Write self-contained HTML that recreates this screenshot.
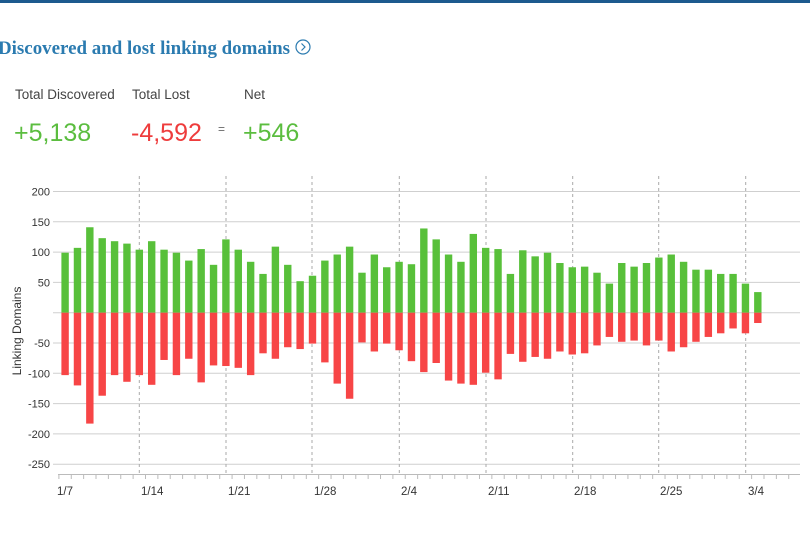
<!DOCTYPE html>
<html><head><meta charset="utf-8"><style>
body{margin:0;background:#fff;width:810px;height:540px;overflow:hidden;font-family:"Liberation Sans",sans-serif;}
</style></head><body>
<svg width="810" height="540" xmlns="http://www.w3.org/2000/svg" font-family="Liberation Sans, sans-serif">
<rect x="0" y="0" width="810" height="3" fill="#1d5a8e"/>
<text x="-2" y="54" font-family="Liberation Serif, serif" font-weight="bold" font-size="19" textLength="292" lengthAdjust="spacingAndGlyphs" fill="#2b7bb0">Discovered and lost linking domains</text>
<circle cx="303" cy="47" r="7" fill="none" stroke="#2b7bb0" stroke-width="1.2"/>
<path d="M301.5 43.5 L305 47 L301.5 50.5" fill="none" stroke="#2b7bb0" stroke-width="1.2"/>
<g font-size="13.5" fill="#444">
<text x="15" y="99">Total Discovered</text>
<text x="132" y="99">Total Lost</text>
<text x="244" y="99">Net</text>
</g>
<g font-size="25">
<text x="14" y="141" fill="#5bbd3f">+5,138</text>
<text x="131" y="141" fill="#ee3c3c">-4,592</text>
<text x="243" y="141" fill="#5bbd3f">+546</text>
</g>
<text x="218" y="133" font-size="12" fill="#666">=</text>
<g id="chart"></g>
</svg>
<script>
var g=document.getElementById('chart'),s='';
var z=312.7,k=0.606;
[200,150,100,50,0,-50,-100,-150,-200,-250].forEach(function(v){var y=z-v*k;
s+='<line x1="53" x2="800" y1="'+y+'" y2="'+y+'" stroke="#cfcfcf" stroke-width="1"/>';
if(v!==0)s+='<text x="50" y="'+(y+4)+'" font-size="11" text-anchor="end" fill="#333">'+v+'</text>';});
var dl=[139.3,226,312,399.3,486,572.7,658.7,745.7];
dl.forEach(function(x){s+='<line x1="'+x+'" x2="'+x+'" y1="176" y2="475" stroke="#aaa" stroke-dasharray="3,3" stroke-width="1"/>';});
var up=[99,107,141,123,118,114,104,118,104,99,86,105,79,121,104,84,64,109,79,52,61,86,96,109,66,96,75,84,80,139,121,96,84,130,107,105,64,103,93,99,82,75,76,66,48,82,76,82,91,96,84,71,71,64,64,48,34];
var dn=[103,120,183,137,103,114,103,119,78,103,76,115,87,88,91,103,67,76,57,60,51,82,117,142,49,64,51,62,80,98,83,112,117,119,99,110,68,81,73,76,64,69,67,54,40,48,46,54,46,64,57,48,40,34,26,34,17];
for(var i=0;i<57;i++){var cx=65.1+12.37*i;
s+='<rect x="'+(cx-3.7)+'" y="'+(z-up[i]*k)+'" width="7.4" height="'+(up[i]*k)+'" fill="#58c03a"/>';
s+='<rect x="'+(cx-3.7)+'" y="'+z+'" width="7.4" height="'+(dn[i]*k)+'" fill="#f74546"/>';}
s+='<line x1="58" x2="800" y1="474.5" y2="474.5" stroke="#bbb"/>';
for(var i=0;i<60;i++){var x=58.9+12.37*i;if(x>800)break;s+='<line x1="'+x+'" x2="'+x+'" y1="474" y2="479" stroke="#bbb"/>';}
var lb=['1/7','1/14','1/21','1/28','2/4','2/11','2/18','2/25','3/4'],lx=[57,141,228,314,401,488,574,660,748];
lb.forEach(function(t,j){s+='<text x="'+lx[j]+'" y="495" font-size="11.5" fill="#333">'+t+'</text>';});
s+='<text transform="translate(21,331) rotate(-90)" font-size="12" text-anchor="middle" fill="#333">Linking Domains</text>';
g.innerHTML=s;
</script>
</body></html>
